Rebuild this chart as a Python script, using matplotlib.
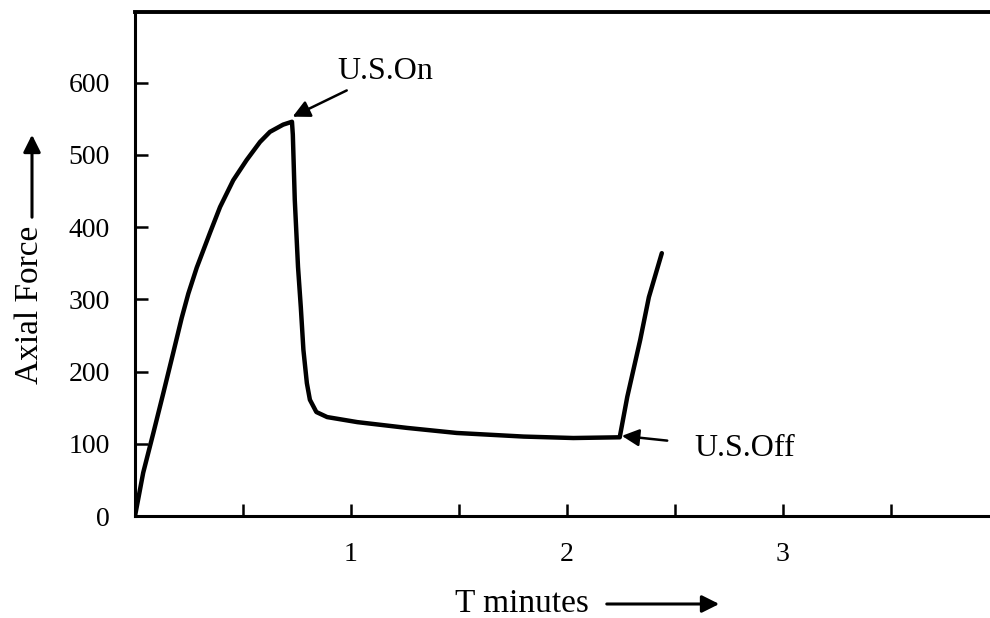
import matplotlib
matplotlib.use("Agg")
import matplotlib.pyplot as plt
from matplotlib.patches import FancyArrowPatch

plt.rcParams['font.family'] = ['Liberation Serif', 'DejaVu Serif']

# Axial force versus time (minutes) during ultrasonic-assisted pressing
t_min = [0.0, 0.038, 0.085, 0.131, 0.177, 0.216, 0.247, 0.286, 0.347, 0.394,
         0.455, 0.517, 0.579, 0.625, 0.686, 0.727,
         0.731, 0.74, 0.755, 0.768, 0.78, 0.796, 0.81, 0.84, 0.89,
         1.03, 1.26, 1.49, 1.80, 2.03, 2.245,
         2.28, 2.34, 2.38, 2.44]
force = [0, 60, 115, 170, 226, 274, 308, 344, 392, 428,
         465, 493, 518, 532, 542, 546,
         528, 438, 345, 289, 230, 184, 161, 144, 137,
         130, 122, 115, 110, 108, 109,
         165, 244, 303, 364]

y_ticks = [0, 100, 200, 300, 400, 500, 600]
x_major = [1, 2, 3]
x_ticks = [0.5, 1, 1.5, 2, 2.5, 3, 3.5]

us_on = (0.73, 553)
us_off = (2.255, 111)

fig = plt.figure(figsize=(9.9, 6.18), dpi=100)
ax = fig.add_axes([135 / 990, 1 - 516 / 618, 1 - 135 / 990, (516 - 12) / 618])

ax.plot(t_min, force, color='black', lw=3.2, solid_capstyle='round',
        solid_joinstyle='round')

ax.set_xlim(0, 3.96)
ax.set_ylim(0, 698)

ax.spines['right'].set_visible(False)
ax.spines['left'].set_linewidth(2.2)
ax.spines['bottom'].set_linewidth(2.2)
ax.spines['top'].set_linewidth(2.8)

ax.set_yticks(y_ticks)
ax.set_yticklabels([str(v) for v in y_ticks])
ax.set_xticks(x_ticks)
ax.set_xticklabels([str(v) if v in x_major else '' for v in x_ticks])
ax.tick_params(axis='both', direction='in', length=9, width=1.8,
               labelsize=20, color='black')
ax.tick_params(axis='y', pad=18)
ax.tick_params(axis='x', pad=19)
ax.tick_params(top=False, right=False)

# Annotations for ultrasonic on/off
ax.annotate('U.S.On', xy=us_on, xytext=(0.935, 615), fontsize=23,
            va='center', ha='left',
            arrowprops=dict(arrowstyle='-|>', color='black', lw=1.8,
                            mutation_scale=26, shrinkA=2, shrinkB=0))
ax.annotate('U.S.Off', xy=us_off, xytext=(2.593, 93), fontsize=23,
            va='center', ha='left',
            arrowprops=dict(arrowstyle='-|>', color='black', lw=1.8,
                            mutation_scale=26, shrinkA=18, shrinkB=0))

# Axis titles with direction arrows
fig.text(30 / 990, 1 - 305 / 618, 'Axial Force', rotation=90,
         fontsize=24, ha='center', va='center')
fig.add_artist(FancyArrowPatch(
    (32 / 990, 1 - 220 / 618), (32 / 990, 1 - 132 / 618),
    transform=fig.transFigure, arrowstyle='-|>', mutation_scale=26,
    color='black', lw=2.2))

fig.text(522 / 990, 1 - 604 / 618, 'T minutes', fontsize=24,
         ha='center', va='center')
fig.add_artist(FancyArrowPatch(
    (604 / 990, 1 - 604 / 618), (722 / 990, 1 - 604 / 618),
    transform=fig.transFigure, arrowstyle='-|>', mutation_scale=26,
    color='black', lw=2.2))

fig.savefig('out.png', dpi=100)
